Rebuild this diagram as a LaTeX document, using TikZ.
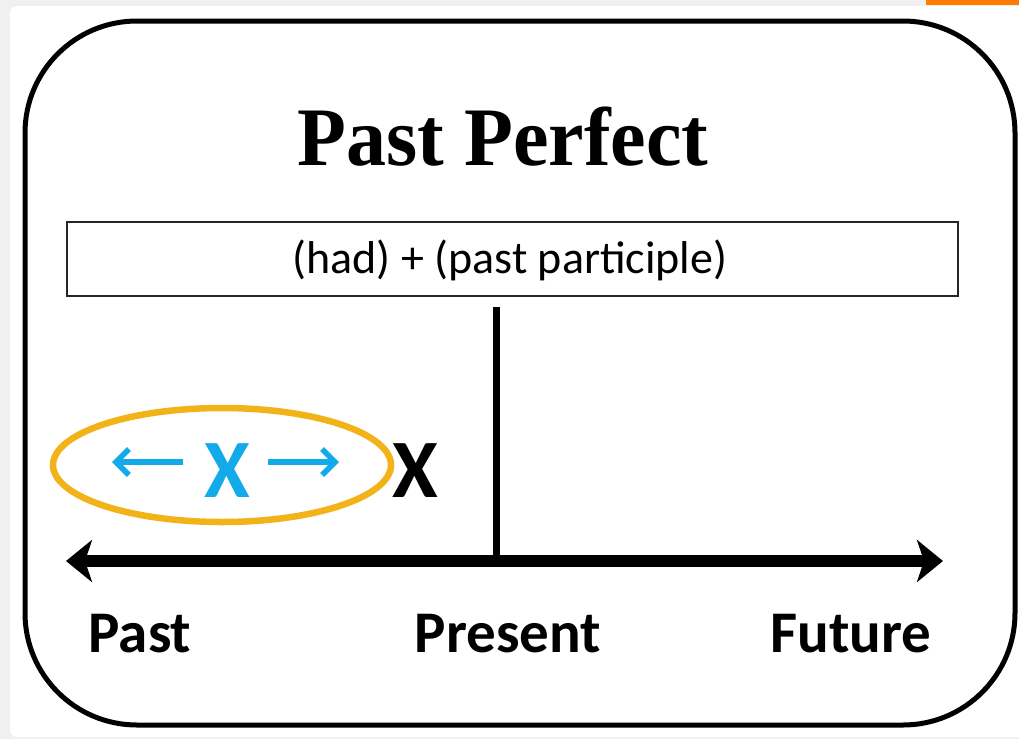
\documentclass[tikz,border=0pt]{standalone}
\usepackage{fontspec}
\usetikzlibrary{arrows.meta,shapes.geometric}
\newfontfamily\calfont{Carlito}
\newfontfamily\tnrfont{Liberation Serif}
\definecolor{bgray}{HTML}{F0F0F0}
\definecolor{xblue}{HTML}{12AAE8}
\definecolor{ringgold}{HTML}{F2B319}
\definecolor{tabor}{HTML}{FF7A00}
\tikzset{
  label/.style={font=\calfont\bfseries\fontsize{59}{60}\selectfont, anchor=base, inner sep=0pt},
  bigx/.style={font=\calfont\bfseries\fontsize{83}{84}\selectfont, anchor=base, inner sep=0pt},
  smallarrow/.style={xblue, line width=6pt, -{Straight Barb[length=13pt,width=26pt,line width=5.5pt]}},
}
\begin{document}
\begin{tikzpicture}[x=1pt,y=-1pt]
\useasboundingbox (0,0) rectangle (1019,739);
\fill[bgray] (0,0) rectangle (1019,739);
\fill[white, rounded corners=7pt] (10,6) rectangle (1040,737);
\fill[tabor] (926,0) rectangle (1019,5);
\draw[line width=5pt, rounded corners=112pt] (25,21) rectangle (1015,725);
% title
\node[font=\tnrfont\bfseries\fontsize{80}{82}\selectfont, anchor=base, inner sep=0pt] (title) at (503,165) {\scalebox{1}[1.04]{Past Perfect}};
% formula box
\draw[line width=2pt, black!85] (67,222) rectangle (958,296);
\node[font=\calfont\fontsize{46}{48}\selectfont, anchor=base, inner sep=0pt] (formula) at (510,273) {(had) + (past participle)};
% timeline
\coordinate (vtop) at (496.5,307);
\coordinate (vbot) at (496.5,558);
\draw[line width=6.5pt] (vtop) -- (vbot);
\coordinate (axl) at (66,561);
\coordinate (axr) at (943,561);
\draw[line width=12pt, {Stealth[length=26pt,width=42pt,inset=7pt]}-{Stealth[length=26pt,width=42pt,inset=7pt]}] (axl) -- (axr);
% ellipse and Xs
\node[ellipse, draw=ringgold, line width=6.5pt, minimum width=338pt, minimum height=114pt, inner sep=0pt] (ring) at (222,465) {};
\node[bigx, xblue] (bluex) at (227,497) {X};
\node[bigx] (blackx) at (415,497) {X};
\coordinate (la) at (112,462);
\coordinate (ra) at (339,462);
\draw[smallarrow] (183,462) -- (la);
\draw[smallarrow] (268,462) -- (ra);
% labels
\node[label] (past) at (140,652) {Past};
\node[label] (present) at (508,652) {Present};
\node[label] (future) at (851,652) {Future};
\end{tikzpicture}
\end{document}
